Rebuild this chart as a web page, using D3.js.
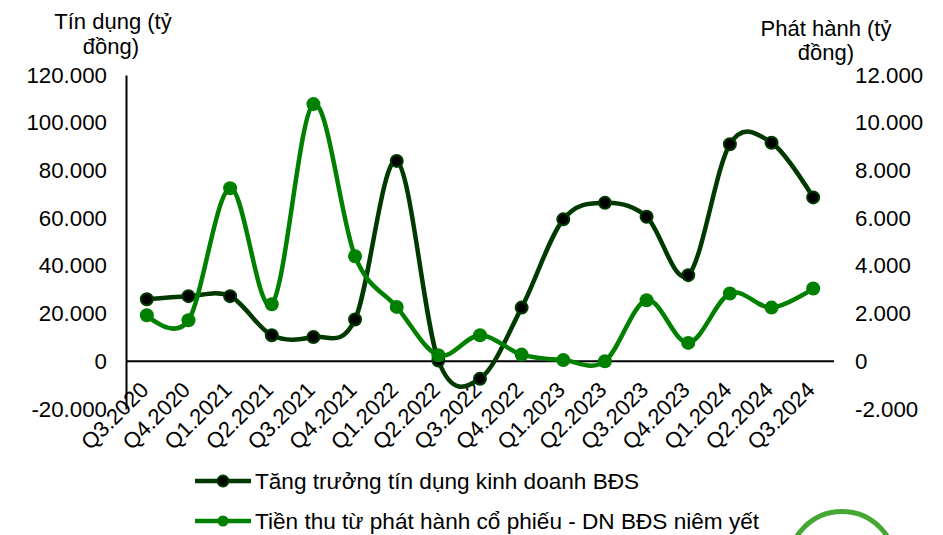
<!DOCTYPE html>
<html><head><meta charset="utf-8">
<script src="https://cdn.jsdelivr.net/npm/d3@7"></script>
<style>body{margin:0;background:#fff}svg{display:block}text{font-family:"Liberation Sans",Arial,sans-serif;fill:#000}</style>
</head><body>
<svg id="c" width="943" height="535"></svg>
<script>
const categories = ["Q3.2020","Q4.2020","Q1.2021","Q2.2021","Q3.2021","Q4.2021","Q1.2022","Q2.2022","Q3.2022","Q4.2022","Q1.2023","Q2.2023","Q3.2023","Q4.2023","Q1.2024","Q2.2024","Q3.2024"];
const creditGrowth = [26000,27300,27300,10900,10200,17500,84000,300,-7300,22500,59500,66400,60600,36100,91000,91600,68700];
const issuance = [1930,1720,7250,2390,10780,4400,2280,250,1090,280,50,0,2560,770,2840,2250,3050];
const leftTicks = [-20000,0,20000,40000,60000,80000,100000,120000];
const rightTicks = [-2000,0,2000,4000,6000,8000,10000,12000];
const seriesNames = ["Tăng trưởng tín dụng kinh doanh BĐS","Tiền thu từ phát hành cổ phiếu - DN BĐS niêm yết"];
const leftTitle = ["Tín dụng (tỷ","đồng)"];
const rightTitle = ["Phát hành (tỷ","đồng)"];

const svg = d3.select("#c");
const x0 = 126, x1 = 834, yTop = 75, yBot = 409;
const x = d3.scaleBand().domain(categories).range([x0, x1]);
const yL = d3.scaleLinear().domain([-20000,120000]).range([yBot, yTop]);
const yR = d3.scaleLinear().domain([-2000,12000]).range([yBot, yTop]);
const fmt = v => v === 0 ? "0" : d3.format(",")(v).replace(/,/g, ".").replace("\u2212","-");
const cx = d => x(d) + x.bandwidth()/2;
const FS = 22;
const FF = "Liberation Sans, Arial, sans-serif";

// left axis
const gL = svg.append("g").attr("transform", `translate(${x0},0)`)
  .call(d3.axisLeft(yL).tickValues(leftTicks).tickFormat(fmt).tickSize(0).tickPadding(19));
gL.select(".domain").attr("stroke","#000").attr("stroke-width",2);
gL.selectAll("text").attr("font-size",22.3).attr("font-family",FF).attr("fill","#000");

// right axis
const gR = svg.append("g").attr("transform", `translate(${x1},0)`)
  .call(d3.axisRight(yR).tickValues(rightTicks).tickFormat(fmt).tickSize(0).tickPadding(21));
gR.select(".domain").remove();
gR.selectAll("text").attr("font-size",22.3).attr("font-family",FF).attr("fill","#000");

// zero line
svg.append("line").attr("x1",x0).attr("x2",x1).attr("y1",yL(0)).attr("y2",yL(0)).attr("stroke","#000").attr("stroke-width",2);

// x labels
svg.append("g").selectAll("text").data(categories).join("text")
  .attr("transform", d => `translate(${cx(d)+3},${yL(0)+30}) rotate(-45)`)
  .attr("text-anchor","end").attr("font-size",FS).text(d => d);

const curve = d3.curveCardinal.tension(0);
const darkC = "#003a00", greenC = "#008000";
const lineL = d3.line().x((d,i)=>cx(categories[i])).y(d=>yL(d)).curve(curve);
const lineR = d3.line().x((d,i)=>cx(categories[i])).y(d=>yR(d)).curve(curve);

svg.append("path").attr("d", lineL(creditGrowth)).attr("fill","none").attr("stroke",darkC).attr("stroke-width",4.5);
svg.append("g").selectAll("circle").data(creditGrowth).join("circle")
  .attr("cx",(d,i)=>cx(categories[i])).attr("cy",d=>yL(d)).attr("r",6).attr("fill","#000").attr("stroke",darkC).attr("stroke-width",2);

svg.append("path").attr("d", lineR(issuance)).attr("fill","none").attr("stroke",greenC).attr("stroke-width",4.5);
svg.append("g").selectAll("circle").data(issuance).join("circle")
  .attr("cx",(d,i)=>cx(categories[i])).attr("cy",d=>yR(d)).attr("r",7).attr("fill",greenC);

// titles
svg.append("text").attr("x",113).attr("y",29).attr("text-anchor","middle").attr("font-size",FS).text(leftTitle[0]);
svg.append("text").attr("x",111).attr("y",54).attr("text-anchor","middle").attr("font-size",FS).text(leftTitle[1]);
svg.append("text").attr("x",826).attr("y",36).attr("text-anchor","middle").attr("font-size",FS).text(rightTitle[0]);
svg.append("text").attr("x",826).attr("y",60).attr("text-anchor","middle").attr("font-size",FS).text(rightTitle[1]);

// legend
const leg = svg.append("g");
[[481,darkC,"#000"],[521,greenC,greenC]].forEach(([ly,c,f],i)=>{
  leg.append("line").attr("x1",195).attr("x2",251).attr("y1",ly).attr("y2",ly).attr("stroke",c).attr("stroke-width",4.5);
  leg.append("circle").attr("cx",223).attr("cy",ly).attr("r",5.5).attr("fill",f).attr("stroke",c).attr("stroke-width",i===0?2:0);
  leg.append("text").attr("x",255).attr("y",ly+8).attr("font-size",22.6).text(seriesNames[i]);
});

// decorative circle bottom-right
svg.append("circle").attr("cx",842).attr("cy",565).attr("r",53.5).attr("fill","none").attr("stroke","#44a832").attr("stroke-width",5);
</script>
</body></html>
